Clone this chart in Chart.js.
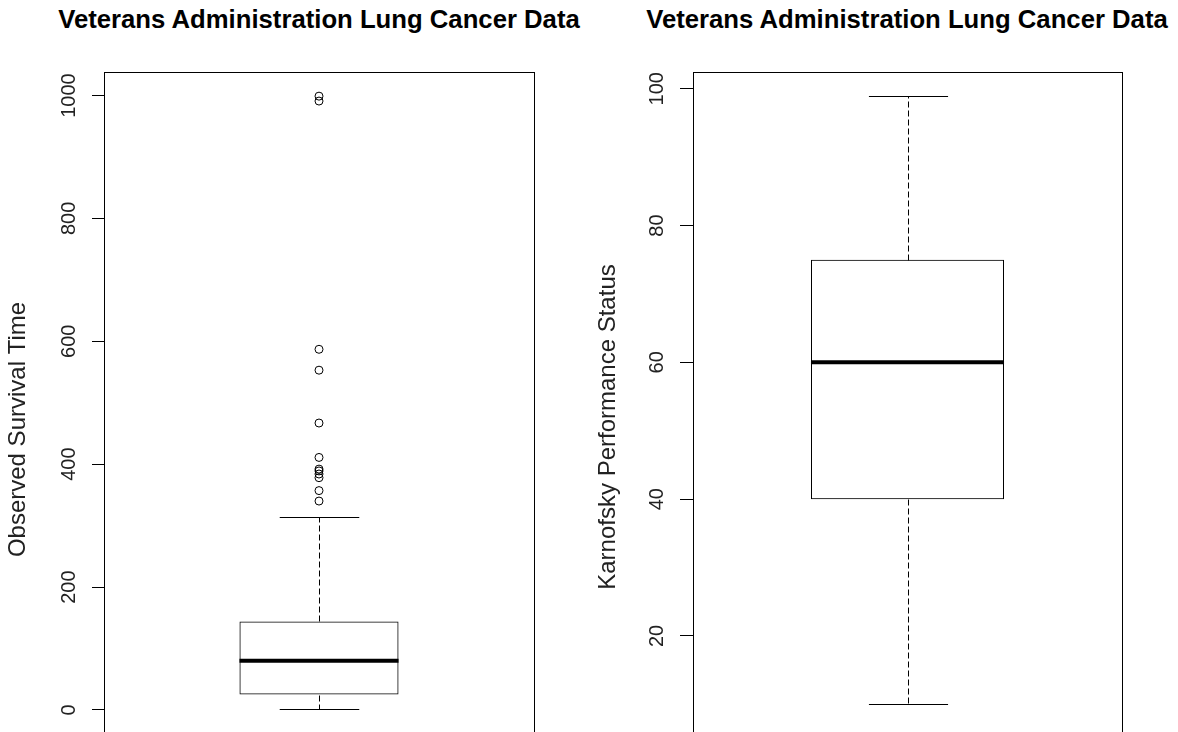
<!DOCTYPE html>
<html>
<head>
<meta charset="utf-8">
<script src="https://cdn.jsdelivr.net/npm/chart.js@4.4.1/dist/chart.umd.min.js"></script>
<style>
  html, body { margin: 0; padding: 0; background: #fff; width: 1178px; height: 732px; overflow: hidden; }
  body { position: relative; font-family: "Liberation Sans", Arial, sans-serif; }
  canvas { position: absolute; top: 0; }
  #karnofskyChart { left: 589px; }
  #survivalChart { left: 0; }
  .title { position: absolute; top: 4px; width: 600px; text-align: center; font-weight: bold; font-size: 25.7px; line-height: 30px; color: #000; white-space: nowrap; }
</style>
</head>
<body>
<div class="title" style="left:19px">Veterans Administration Lung Cancer Data</div>
<div class="title" style="left:607px">Veterans Administration Lung Cancer Data</div>
<canvas id="karnofskyChart" width="637" height="800"></canvas>
<canvas id="survivalChart" width="638" height="800"></canvas>
<script>
// Box statistics: lower whisker, Q1, median, Q3, upper whisker
const survivalLabels = ['Survival time'];
const survivalStats = [1, 25, 80, 144, 314];
const survivalOutliers = [340, 357, 378, 384, 389, 392, 411, 467, 553, 587, 991, 999];
const survivalTicks = [0, 200, 400, 600, 800, 1000];

const karnofskyLabels = ['Karnofsky score'];
const karnofskyStats = [10, 40, 60, 75, 99];
const karnofskyOutliers = [];
const karnofskyTicks = [20, 40, 60, 80, 100];

Chart.defaults.font.family = '"Liberation Sans", Arial, sans-serif';
Chart.defaults.color = '#000';

// Whiskers, caps, median and the plot frame
const boxExtras = {
    id: 'boxExtras',
    afterDatasetsDraw(chart, args, opts) {
        const [lo, q1, med, q3, hi] = opts.stats;
        const bar = chart.getDatasetMeta(0).data[0];
        const y = v => Math.round(chart.scales.y.getPixelForValue(v)) + 0.5;
        const ctx = chart.ctx;
        const cx = Math.round(bar.x) + 0.5;
        const half = bar.width / 2;
        const cap = half * opts.capRatio;
        const seg = (x1, y1, x2, y2) => {
            ctx.beginPath();
            ctx.moveTo(x1, y1);
            ctx.lineTo(x2, y2);
            ctx.stroke();
        };
        ctx.save();
        ctx.strokeStyle = '#000';
        ctx.lineWidth = 1;
        ctx.setLineDash([6, 3]);
        seg(cx, y(q3), cx, y(hi));
        seg(cx, y(q1), cx, y(lo));
        ctx.setLineDash([]);
        seg(cx - cap, y(hi), cx + cap, y(hi));
        seg(cx - cap, y(lo), cx + cap, y(lo));
        ctx.lineWidth = 4;
        seg(bar.x - half, chart.scales.y.getPixelForValue(med), bar.x + half, chart.scales.y.getPixelForValue(med));
        const a = chart.chartArea;
        ctx.lineWidth = 1;
        ctx.strokeRect(Math.round(a.left) + 0.5, Math.round(a.top) + 0.5,
            Math.round(a.right) - Math.round(a.left), Math.round(a.bottom) - Math.round(a.top));
        ctx.restore();
    }
};

function boxChart(id, labels, stats, outliers, ticks, yTitle, yMin, yMax, tickLen, tickPad, titlePad, boxWidth, capRatio) {
    return new Chart(document.getElementById(id), {
        type: 'bar',
        data: {
            labels: labels,
            datasets: [
                {
                    type: 'bar',
                    data: [[stats[1], stats[3]]],
                    backgroundColor: 'rgba(255,255,255,0)',
                    borderColor: '#000',
                    borderWidth: 1,
                    borderSkipped: false,
                    categoryPercentage: 1,
                    barPercentage: boxWidth
                },
                {
                    type: 'line',
                    data: outliers.map(v => ({ x: labels[0], y: v })),
                    showLine: false,
                    pointRadius: 4,
                    pointBorderWidth: 1,
                    pointBorderColor: '#000',
                    pointBackgroundColor: 'rgba(0,0,0,0)'
                }
            ]
        },
        options: {
            responsive: false,
            animation: false,
            devicePixelRatio: 1,
            events: [],
            layout: { padding: { left: 0, right: 104, top: 72, bottom: 13 } },
            plugins: {
                legend: { display: false },
                tooltip: { enabled: false },
                boxExtras: { stats: stats, capRatio: capRatio }
            },
            scales: {
                x: { display: false },
                y: {
                    min: yMin,
                    max: yMax,
                    afterFit: s => { s.width = 104; },
                    afterBuildTicks: s => { s.ticks = ticks.map(v => ({ value: v })); },
                    border: { display: false },
                    grid: { drawOnChartArea: false, drawTicks: true, tickLength: tickLen, color: '#000', lineWidth: 1 },
                    ticks: {
                        autoSkip: false,
                        minRotation: 90,
                        maxRotation: 90,
                        crossAlign: 'center',
                        padding: tickPad,
                        color: '#222',
                        font: { size: 20 },
                        callback: value => String(value)
                    },
                    title: {
                        display: true,
                        text: yTitle,
                        color: '#222',
                        font: { size: 24 },
                        padding: { top: titlePad, bottom: 0 }
                    }
                }
            }
        },
        plugins: [boxExtras]
    });
}

boxChart('survivalChart', survivalLabels, survivalStats, survivalOutliers, survivalTicks,
    'Observed Survival Time', -125.4, 1038.3, 12, 0, 4, 0.37, 0.5);
boxChart('karnofskyChart', karnofskyLabels, karnofskyStats, karnofskyOutliers, karnofskyTicks,
    'Karnofsky Performance Status', -1.35, 102.44, 13, 6, 5, 0.45, 0.41);
</script>
</body>
</html>
